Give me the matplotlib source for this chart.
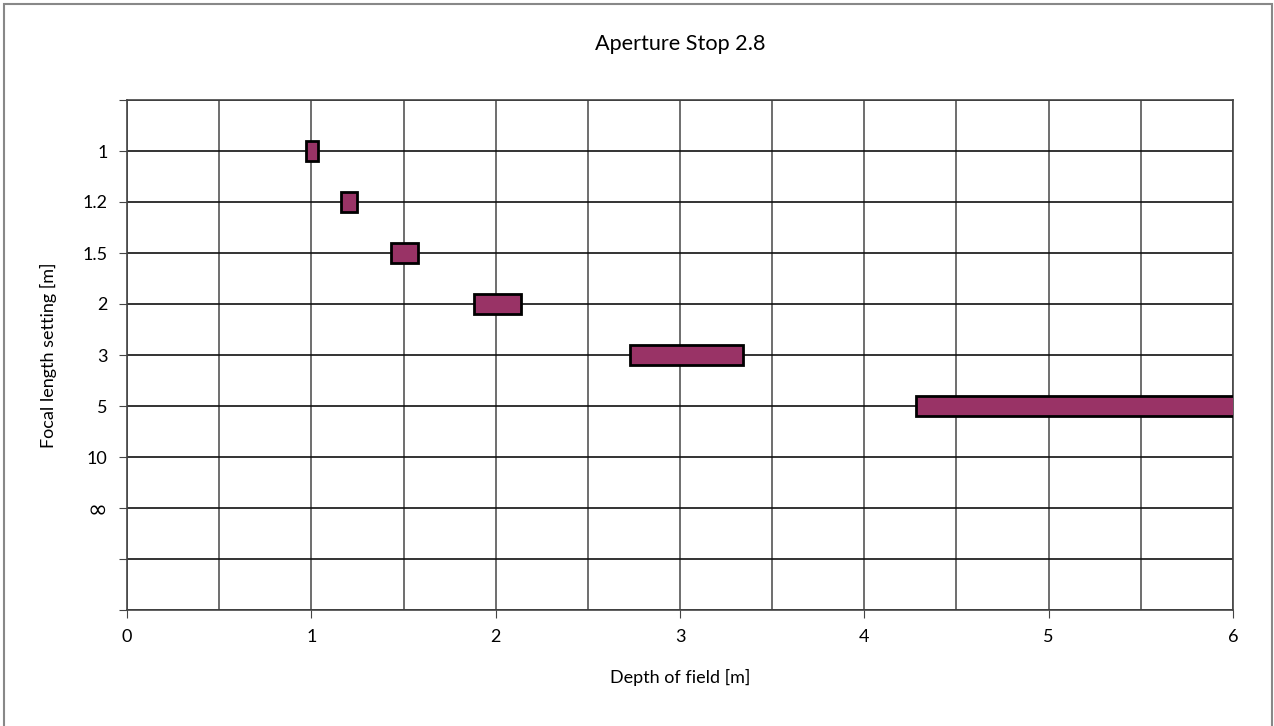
import matplotlib.pyplot as plt
from matplotlib.patches import Rectangle

# focus setting labels (top to bottom) and depth-of-field range [near, far] in m
focus_labels = ['1', '1.2', '1.5', '2', '3', '5', '10', '\u221e']
dof_near = [0.97, 1.16, 1.43, 1.88, 2.73, 4.28]
dof_far = [1.035, 1.25, 1.58, 2.14, 3.34, 7.5]
x_ticks = [0, 1, 2, 3, 4, 5, 6]

plt.rcParams['font.family'] = ['Lato', 'DejaVu Sans']
plt.rcParams['font.size'] = 13

fig = plt.figure(figsize=(12.74, 7.26), dpi=100)
ax = fig.add_axes([127/1274, 1 - 610/726, (1233 - 127)/1274, 510/726])

# frame around the whole figure
fig.patches.append(Rectangle((4/1274, -0.01), 1268/1274, 1 - 4/726 + 0.01,
                             transform=fig.transFigure, fill=False,
                             edgecolor='#888888', linewidth=1.5))

ypos = list(range(1, len(dof_near) + 1))
widths = [f - n for n, f in zip(dof_near, dof_far)]
ax.barh(ypos, widths, left=dof_near, height=0.4, color='#993366',
        edgecolor='black', linewidth=2, zorder=3)

ax.set_xlim(0, 6)
ax.set_ylim(10, 0)
ax.set_xticks(x_ticks)
ax.set_xticks([0.5 + i for i in range(6)], minor=True)
ax.set_yticks(range(0, 11))
ax.set_yticklabels([''] + focus_labels + ['', ''])
for lbl in ax.get_yticklabels():
    if lbl.get_text() == '\u221e':
        lbl.set_fontfamily('DejaVu Sans')
        lbl.set_fontsize(17)
ax.tick_params(axis='x', which='minor', length=0)
ax.tick_params(axis='x', which='major', length=6, color='#444444', pad=8)
ax.tick_params(axis='y', length=6, color='#444444', pad=8)
ax.xaxis.grid(True, which='both', color='#555555', linewidth=1.2, zorder=0)
ax.yaxis.grid(True, which='major', color='#111111', linewidth=1.2, zorder=0)
ax.set_axisbelow(True)
for s in ax.spines.values():
    s.set_color('#444444')
    s.set_linewidth(1.2)

ax.set_title('Aperture Stop 2.8', pad=36)
ax.set_xlabel('Depth of field [m]', labelpad=17)
ax.set_ylabel('Focal length setting [m]', labelpad=18)

fig.savefig('out.png', dpi=100)
